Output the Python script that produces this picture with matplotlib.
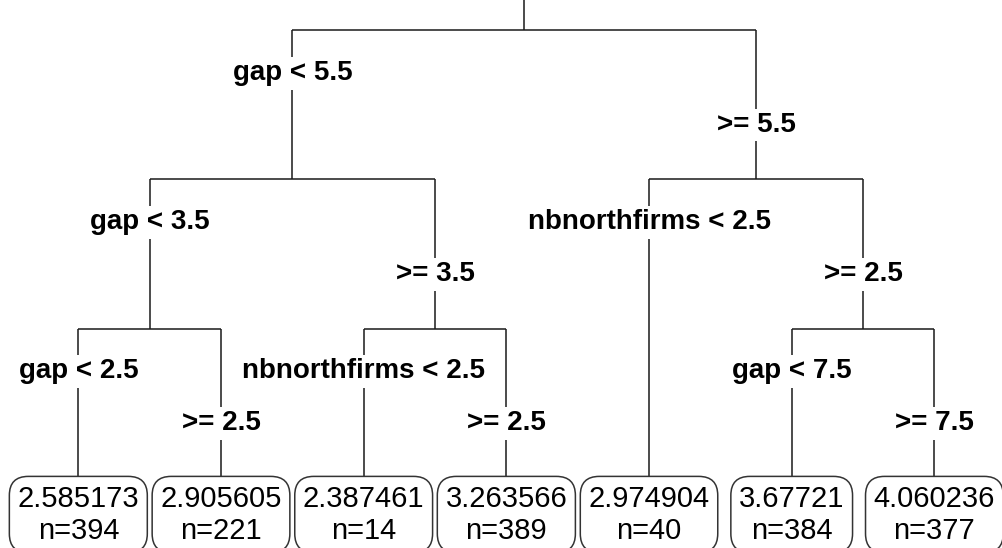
import matplotlib.pyplot as plt

# rpart-style node numbers: the children of node k are 2k and 2k+1
split_nodes = [1, 2, 3, 4, 5, 7]
split_left = ["gap < 5.5", "gap < 3.5", "nbnorthfirms < 2.5",
              "gap < 2.5", "nbnorthfirms < 2.5", "gap < 7.5"]
split_right = [">= 5.5", ">= 3.5", ">= 2.5", ">= 2.5", ">= 2.5", ">= 7.5"]

leaf_nodes = [8, 9, 10, 11, 6, 14, 15]
leaf_mean = [2.585173, 2.905605, 2.387461, 3.263566, 2.974904, 3.67721, 4.060236]
leaf_n = [394, 221, 14, 389, 40, 384, 377]

plt.rcParams['font.family'] = ['Liberation Sans', 'DejaVu Sans']

# layout: leaves evenly spaced at the bottom, splits above the middle of their children
depth = {k: k.bit_length() - 1 for k in split_nodes}
max_depth = max(depth.values()) + 1
xpos = {}
for i, k in enumerate(leaf_nodes):
    xpos[k] = i + 1
    depth[k] = max_depth


def place(k):
    if k not in xpos:
        xpos[k] = (place(2 * k) + place(2 * k + 1)) / 2
    return xpos[k]


place(1)

fig = plt.figure(figsize=(10.03, 5.48), dpi=100)
ax = fig.add_axes([0, 0, 1, 1])
ax.set_xlim(0.451, 7.481)
ax.set_ylim(3.472, -0.203)
ax.axis('off')

line_kw = dict(color='#1a1a1a', lw=1.1, solid_capstyle='butt', zorder=1)
fs = 20

# stub above the root
ax.plot([xpos[1], xpos[1]], [-0.5, 0], **line_kw)

for k, lab_l, lab_r in zip(split_nodes, split_left, split_right):
    d = depth[k]
    l, r = 2 * k, 2 * k + 1
    ax.plot([xpos[l], xpos[r]], [d, d], **line_kw)
    ax.plot([xpos[l], xpos[l]], [d, depth[l]], **line_kw)
    ax.plot([xpos[r], xpos[r]], [d, depth[r]], **line_kw)
    ax.text(xpos[l], d + 0.335, lab_l, ha='center', va='baseline',
            fontsize=fs, fontweight='bold', zorder=3,
            bbox=dict(boxstyle='square,pad=0.12', fc='white', ec='none'))
    ax.text(xpos[r], d + 0.683, lab_r, ha='center', va='baseline',
            fontsize=fs, fontweight='bold', zorder=3,
            bbox=dict(boxstyle='square,pad=0.12', fc='white', ec='none'))

for k, m, n in zip(leaf_nodes, leaf_mean, leaf_n):
    ax.annotate(f"{m:.7g}\nn={n}", xy=(xpos[k], depth[k]), xytext=(0, -5),
                textcoords='offset points', ha='center', va='top',
                fontsize=21, linespacing=1.18, zorder=3,
                bbox=dict(boxstyle='round,pad=0.28,rounding_size=0.65',
                          fc='white', ec='#333333', lw=1.1))

fig.savefig('out.png', dpi=100)
